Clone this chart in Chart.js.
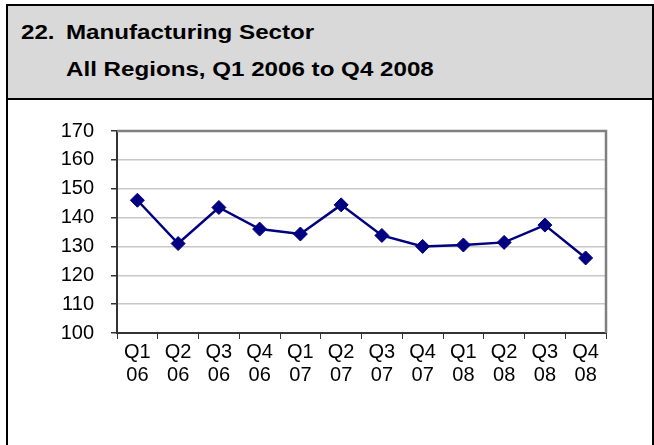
<!DOCTYPE html>
<html>
<head>
<meta charset="utf-8">
<script src="https://cdn.jsdelivr.net/npm/chart.js@4.4.0/dist/chart.umd.min.js"></script>
<style>
  html, body { margin: 0; padding: 0; background: #fff; }
  body { width: 654px; height: 445px; position: relative; overflow: hidden; font-family: "Liberation Sans", Arial, sans-serif; }
  #frame { position: absolute; left: 6px; top: 4px; width: 648px; height: 470px; box-sizing: border-box; border: 2px solid #000; z-index: 2; pointer-events: none; }
  #header { position: absolute; left: 0; top: 0; right: 0; height: 92px; background: #d9d9d9; border-bottom: 2px solid #000; }
  .t { position: absolute; font-weight: bold; font-size: 21px; line-height: 24px; color: #000; white-space: nowrap; transform: scaleX(1.15); transform-origin: 0 0; }
  #c { position: absolute; left: 0; top: 0; z-index: 1; }
</style>
</head>
<body>
<div id="frame">
  <div id="header">
    <div class="t" style="left:13px; top:14px;">22.</div>
    <div class="t" style="left:58px; top:14px;">Manufacturing Sector</div>
    <div class="t" style="left:58px; top:51px;">All Regions, Q1 2006 to Q4 2008</div>
  </div>
</div>
<canvas id="c" width="654" height="445"></canvas>
<script>
const categories = [['Q1','06'],['Q2','06'],['Q3','06'],['Q4','06'],['Q1','07'],['Q2','07'],['Q3','07'],['Q4','07'],['Q1','08'],['Q2','08'],['Q3','08'],['Q4','08']];
const values = [146, 131, 143.5, 136, 134.3, 144.4, 133.8, 130, 130.5, 131.4, 137.4, 126];
const yMin = 100, yMax = 170, yStep = 10;

const plotFrame = {
  id: 'plotFrame',
  afterDatasetsDraw(chart) {
    const {ctx, chartArea: a} = chart;
    ctx.save();
    ctx.strokeStyle = '#808080';
    ctx.lineWidth = 2.5;
    ctx.beginPath();
    ctx.moveTo(a.left, a.top);
    ctx.lineTo(a.right, a.top);
    ctx.lineTo(a.right, a.bottom);
    ctx.stroke();
    ctx.restore();
  }
};

new Chart(document.getElementById('c'), {
  type: 'line',
  data: {
    labels: categories,
    datasets: [{
      data: values,
      borderColor: '#000080',
      backgroundColor: '#000080',
      borderWidth: 2.5,
      pointStyle: 'rectRot',
      pointRadius: 7,
      pointHoverRadius: 7,
      pointBorderWidth: 1,
      tension: 0,
      clip: false
    }]
  },
  options: {
    responsive: false,
    animation: false,
    events: [],
    layout: { padding: { top: 131, right: 48, bottom: 0, left: 0 } },
    plugins: { legend: { display: false }, tooltip: { enabled: false } },
    scales: {
      x: {
        type: 'category',
        offset: true,
        grid: { offset: true, drawOnChartArea: false, drawTicks: true, tickLength: 6, tickColor: '#333', color: '#333' },
        border: { color: '#333', width: 2 },
        ticks: { color: '#000', font: { family: '"Liberation Sans", Arial', size: 20, lineHeight: 1.15 }, padding: 2, maxRotation: 0, autoSkip: false },
        afterFit(s) { s.height = 112; }
      },
      y: {
        min: yMin, max: yMax,
        grid: {
          color: (c) => (c.tick && c.tick.value === yMax) ? 'rgba(0,0,0,0)' : '#c8c8c8',
          tickColor: '#333', tickLength: 6, lineWidth: 1.5
        },
        border: { color: '#333', width: 2 },
        ticks: { stepSize: yStep, color: '#000', font: { family: '"Liberation Sans", Arial', size: 20 }, padding: 17 },
        afterFit(s) { s.width = 117; }
      }
    }
  },
  plugins: [plotFrame]
});
</script>
</body>
</html>
